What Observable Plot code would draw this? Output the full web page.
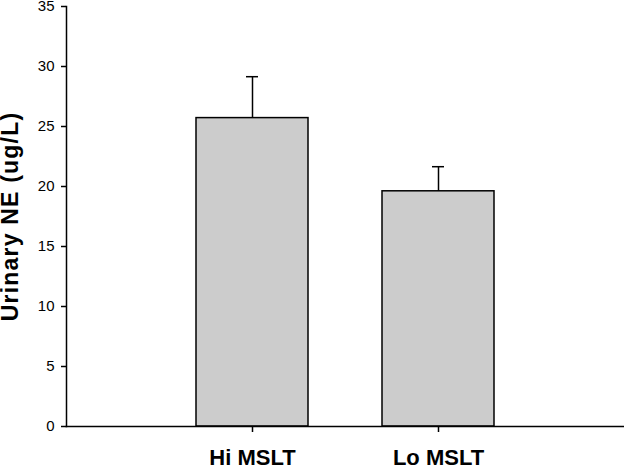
<!DOCTYPE html>
<html><head><meta charset="utf-8">
<script src="https://cdn.jsdelivr.net/npm/d3@7"></script>
<script src="https://cdn.jsdelivr.net/npm/@observablehq/plot@0.6"></script>
<style>
body{margin:0;background:#fff;}
</style></head><body><div id="chart"></div>
<script>
const groups = ["Hi MSLT", "Lo MSLT"];
const means = [25.7, 19.6];
const upper = [29.15, 21.65];
const yTicks = [0, 5, 10, 15, 20, 25, 30, 35];
const yLabel = "Urinary NE (ug/L)";
const data = groups.map((g, i) => ({group: g, mean: means[i], upper: upper[i]}));

const chart = Plot.plot({
  width: 624, height: 466,
  marginLeft: 66, marginRight: 0, marginTop: 6, marginBottom: 40,
  style: {fontFamily: "'Liberation Sans', Arial, sans-serif", background: "#fff", color: "#000"},
  x: {domain: groups, paddingInner: 0.4, paddingOuter: 0.7, label: null},
  y: {domain: [0, 35], label: null},
  marks: [
    Plot.barY(data, {x: "group", y: "mean", fill: "#cccccc", stroke: "#000", strokeWidth: 1.5}),
    Plot.ruleX(data, {x: "group", y1: "mean", y2: "upper", stroke: "#000", strokeWidth: 1.5}),
    Plot.tickY(data, {x: "group", y: "upper", insetLeft: 50, insetRight: 50, stroke: "#000", strokeWidth: 1.5}),
    Plot.frame({anchor: "left", strokeWidth: 1.5}),
    Plot.frame({anchor: "bottom", strokeWidth: 1.5}),
    Plot.axisY({ticks: yTicks, tickSize: 5, tickPadding: 7, fontSize: 15, strokeWidth: 1.5, label: null}),
    Plot.axisX({tickSize: 6, tickPadding: 17, fontSize: 22, fontWeight: "bold", strokeWidth: 1.5, label: null}),
    Plot.text([yLabel], {text: d => d, frameAnchor: "left", textAnchor: "middle", rotate: -90, dx: -56, fontSize: 23, fontWeight: "bold"})
  ]
});
d3.select(chart).selectAll("text").filter(function() { return this.textContent === yLabel; }).attr("letter-spacing", "1.2px");
document.getElementById("chart").appendChild(chart);
</script>
</body></html>
